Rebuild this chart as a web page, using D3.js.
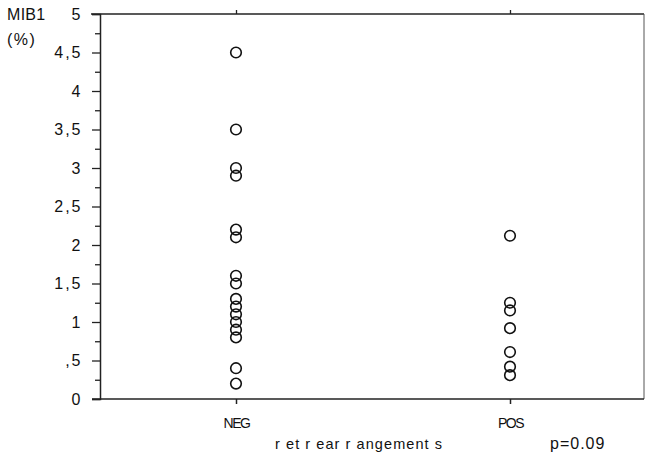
<!DOCTYPE html>
<html><head><meta charset="utf-8">
<script src="https://cdn.jsdelivr.net/npm/d3@7"></script>
<style>body{margin:0;background:#fff;} text{font-family:"Liberation Sans",Arial,sans-serif;fill:#111;}</style>
</head><body>
<svg id="c" width="646" height="459"></svg>
<script>
const categories = ["NEG", "POS"];
const negValues = [4.5, 3.5, 3.0, 2.9, 2.2, 2.1, 1.6, 1.5, 1.3, 1.2, 1.1, 1.0, 0.9, 0.8, 0.4, 0.2];
const posValues = [2.12, 1.25, 1.15, 0.92, 0.61, 0.42, 0.31];
const yTicks = [0, 0.5, 1, 1.5, 2, 2.5, 3, 3.5, 4, 4.5, 5];
const yTickLabels = ["0", ",5", "1", "1,5", "2", "2,5", "3", "3,5", "4", "4,5", "5"];
const yMinorTicks = [0.25, 0.75, 1.25, 1.75, 2.25, 2.75, 3.25, 3.75, 4.25, 4.75];
const yTitle = ["MIB1", "(%)"];
const xTitle = "r et r ear r angement s";
const pText = "p=0.09";

const svg = d3.select("#c");
const L = 100, R = 644, T = 14, B = 399;
const y = d3.scaleLinear().domain([0, 5]).range([B, T]);
const x = d3.scalePoint().domain(categories).range([236, 510]);

// frame
svg.append("line").attr("x1", 91).attr("x2", R).attr("y1", T).attr("y2", T).attr("stroke", "#222").attr("stroke-width", 1.5);
svg.append("line").attr("x1", R).attr("x2", R).attr("y1", T).attr("y2", B).attr("stroke", "#555").attr("stroke-width", 1);
svg.append("line").attr("x1", 92).attr("x2", R).attr("y1", B).attr("y2", B).attr("stroke", "#222").attr("stroke-width", 1.5);

// y axis
const yAxis = d3.axisLeft(y).tickValues(yTicks).tickSize(8).tickPadding(9.5)
  .tickFormat((d, i) => yTickLabels[i]);
const gy = svg.append("g").attr("transform", `translate(${L},0)`).call(yAxis);
gy.select(".domain").attr("stroke", "#222").attr("stroke-width", 1.5);
gy.selectAll(".tick line").attr("stroke", "#222").attr("stroke-width", 1.3);
gy.selectAll(".tick text").attr("font-size", 16).attr("letter-spacing", "2px")
  .attr("font-family", "Liberation Sans, Arial, sans-serif").attr("fill", "#111");
const yMinor = d3.axisLeft(y).tickValues(yMinorTicks).tickSize(5).tickFormat("");
const gm = svg.append("g").attr("transform", `translate(${L},0)`).call(yMinor);
gm.select(".domain").remove();
gm.selectAll(".tick line").attr("stroke", "#222").attr("stroke-width", 1.3);

// x axis ticks
const xAxis = d3.axisBottom(x).tickSize(5).tickPadding(14);
const gx = svg.append("g").attr("transform", `translate(0,${B})`).call(xAxis);
gx.select(".domain").remove();
gx.selectAll(".tick line").attr("stroke", "#222").attr("stroke-width", 1.5);
gx.selectAll(".tick text").attr("font-size", 14).attr("letter-spacing", "-1.5px")
  .attr("font-family", "Liberation Sans, Arial, sans-serif").attr("fill", "#111");
// top ticks
const xTop = d3.axisTop(x).tickSize(4).tickFormat("");
const gt = svg.append("g").attr("transform", `translate(0,${T})`).call(xTop);
gt.select(".domain").remove();
gt.selectAll(".tick line").attr("stroke", "#222").attr("stroke-width", 1.3);

// titles
svg.append("text").attr("x", 7).attr("y", 20).attr("font-size", 16).attr("letter-spacing", "0.3px").text(yTitle[0]);
svg.append("text").attr("x", 7).attr("y", 45).attr("font-size", 16).attr("letter-spacing", "1.5px").text(yTitle[1]);
svg.append("text").attr("x", 275).attr("y", 449).attr("font-size", 14.5).attr("textLength", 167).text(xTitle);
svg.append("text").attr("x", 550).attr("y", 449).attr("font-size", 16).attr("letter-spacing", "1px").text(pText);

// points
const pts = [].concat(
  negValues.map(v => ({c: "NEG", v})),
  posValues.map(v => ({c: "POS", v}))
);
svg.append("g").selectAll("circle").data(pts).join("circle")
  .attr("cx", d => x(d.c)).attr("cy", d => y(d.v)).attr("r", 5.3)
  .attr("fill", "none").attr("stroke", "#111").attr("stroke-width", 1.6);
</script>
</body></html>
